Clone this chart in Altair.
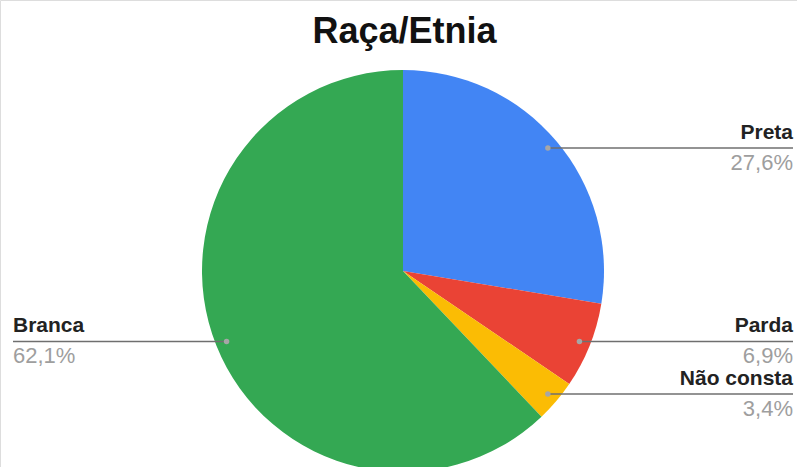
import altair as alt
import pandas as pd

categories = ["Preta", "Parda", "Não consta", "Branca"]
values = [27.6, 6.9, 3.4, 62.1]
pct_labels = ["27,6%", "6,9%", "3,4%", "62,1%"]
colors = ["#4285F4", "#EA4335", "#FBBC04", "#34A853"]

df = pd.DataFrame({
    "cat": categories,
    "value": values,
    "pct": pct_labels,
    "idx": list(range(len(categories))),
})

CX, CY, R = 403, 271, 201
DOT_R = 190
LEFT_X, RIGHT_X = 13, 793

base = alt.Chart(df)

pie = base.mark_arc(radius=R).encode(
    theta=alt.Theta("value:Q", stack=True),
    color=alt.Color("cat:N", scale=alt.Scale(domain=categories, range=colors), legend=None),
    order=alt.Order("idx:Q"),
    x=alt.value(CX),
    y=alt.value(CY),
)

geo = base.transform_joinaggregate(
    total="sum(value)"
).transform_window(
    cum="sum(value)", sort=[alt.SortField("idx")], frame=[None, 0]
).transform_calculate(
    mid=f"2*PI*(datum.cum - datum.value/2)/datum.total"
).transform_calculate(
    px=f"{CX} + {DOT_R}*sin(datum.mid)",
    py=f"{CY} - {DOT_R}*cos(datum.mid)",
    left="sin(datum.mid) < 0",
).transform_calculate(
    lx=f"datum.left ? {LEFT_X} : {RIGHT_X}"
)

rules = geo.mark_rule(color="#6f6f6f", strokeWidth=1.5).encode(
    x=alt.X("px:Q", scale=None, axis=None),
    x2="lx:Q",
    y=alt.Y("py:Q", scale=None, axis=None),
)

dots = geo.mark_circle(size=30, color="#a6a6a6", opacity=1).encode(
    x=alt.X("px:Q", scale=None, axis=None),
    y=alt.Y("py:Q", scale=None, axis=None),
)

def labels(side_filter, align):
    g = geo.transform_filter(side_filter)
    name = g.mark_text(align=align, baseline="alphabetic", dy=-9, font="Liberation Sans",
                       fontSize=21, fontWeight="bold", color="#222222").encode(
        x=alt.X("lx:Q", scale=None, axis=None),
        y=alt.Y("py:Q", scale=None, axis=None),
        text="cat:N",
    )
    pct = g.mark_text(align=align, baseline="alphabetic", dy=22, font="Liberation Sans",
                      fontSize=22, color="#9e9e9e").encode(
        x=alt.X("lx:Q", scale=None, axis=None),
        y=alt.Y("py:Q", scale=None, axis=None),
        text="pct:N",
    )
    return name + pct

left_labels = labels("datum.left", "left")
right_labels = labels("!datum.left", "right")

chart = alt.layer(pie, rules, dots, left_labels, right_labels).properties(
    width=797,
    height=467,
    padding=0,
    autosize=alt.AutoSizeParams(type="none"),
    title=alt.TitleParams(
        "Raça/Etnia", font="Liberation Sans", fontSize=36, fontWeight="bold",
        color="#111111", anchor="middle", frame="group", offset=-43, dy=36, dx=6,
        baseline="alphabetic",
    ),
).configure_view(stroke=None).configure(background="white")

chart.save("out.html", embed_options={"renderer": "svg", "actions": False})
